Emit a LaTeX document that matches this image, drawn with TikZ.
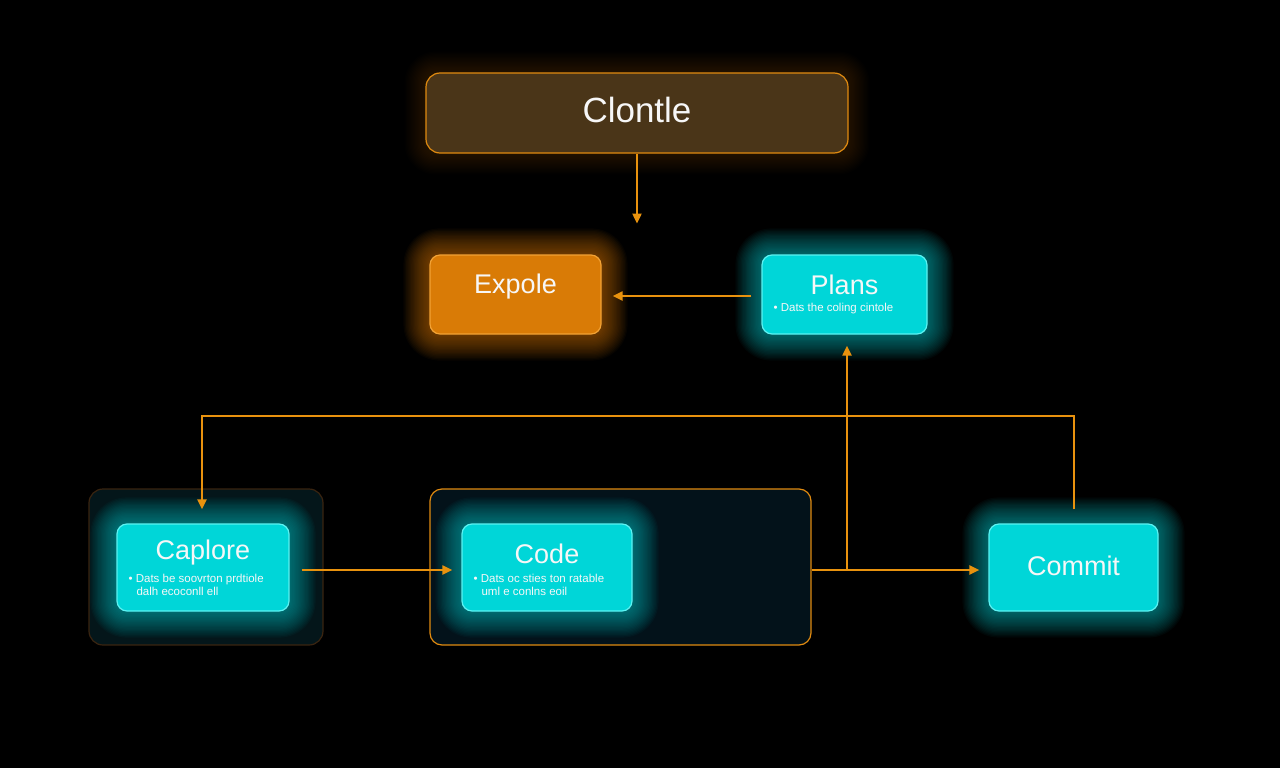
\documentclass[tikz,border=0pt]{standalone}
\usepackage{fontspec}
\setmainfont{Liberation Sans}
\usetikzlibrary{arrows.meta,calc}
\pgfdeclarelayer{back}
\pgfdeclarelayer{glowlayer}
\pgfsetlayers{back,glowlayer,main}
\definecolor{brownfill}{HTML}{4A3518}
\definecolor{orangeedge}{HTML}{E08A10}
\definecolor{orangefill}{HTML}{D97B06}
\definecolor{orangelite}{HTML}{F2A235}
\definecolor{cyanfill}{HTML}{00D6D8}
\definecolor{cyanedge}{HTML}{5CF2F2}
\definecolor{cyanglow}{HTML}{00C8CC}
\definecolor{brownglow}{HTML}{5A3A10}
\definecolor{capcontfill}{HTML}{04161A}
\definecolor{capcontedge}{HTML}{3A2410}
\definecolor{codecontfill}{HTML}{03121A}
\definecolor{arrowc}{HTML}{E8920E}
\definecolor{txt}{HTML}{F7F7F7}
\tikzset{
  box/.style={rounded corners=10pt, line width=1.2pt, inner sep=0pt},
  cyanbox/.style={box, fill=cyanfill, draw=cyanedge},
  orangebox/.style={box, fill=orangefill, draw=orangelite},
  brownbox/.style={box, fill=brownfill, draw=orangeedge, rounded corners=14pt},
  container/.style={rounded corners=14pt, line width=1.2pt, inner sep=0pt},
  title/.style={text=txt, font=\fontsize{27}{32}\selectfont, inner sep=0pt},
  bigtitle/.style={text=txt, font=\fontsize{35}{40}\selectfont, inner sep=0pt},
  small/.style={text=txt, font=\fontsize{11.5}{13}\selectfont, align=left, inner sep=0pt},
  conn/.style={draw=arrowc, line width=2pt, -{Triangle[length=10pt,width=9pt]}},
}
% #1 node, #2 colour, #3 steps, #4 opacity per step
\newcommand\glowaround[4]{%
  \begin{pgfonlayer}{glowlayer}
  \foreach \i [evaluate=\i as \r using 10+\i*1.3, evaluate=\i as \d using \i*1.3] in {1,...,#3}{
    \fill[#2, opacity=#4, rounded corners=\r pt]
      ($(#1.south west)+(-\d,\d)$) rectangle ($(#1.north east)+(\d,-\d)$);
  }
  \end{pgfonlayer}}
\begin{document}
\begin{tikzpicture}[x=1pt,y=-1pt]
\begin{pgfonlayer}{back}
\fill[black] (0,0) rectangle (1280,768);
\end{pgfonlayer}
\useasboundingbox (0,0) rectangle (1280,768);

% containers
\begin{pgfonlayer}{back}
\node[container, fill=capcontfill, draw=capcontedge, minimum width=234pt, minimum height=156pt] (capcont) at (206,567) {};
\node[container, fill=codecontfill, draw=orangeedge, rounded corners=12pt, minimum width=381pt, minimum height=156pt] (codecont) at (620.5,567) {};
\end{pgfonlayer}

% boxes
\node[brownbox, minimum width=422pt, minimum height=80pt] (clontle) at (637,113) {};
\node[bigtitle] (clontle-t) at ($(clontle.center)+(0,-3)$) {Clontle};

\node[orangebox, minimum width=171pt, minimum height=79pt] (expole) at (515.5,294.5) {};
\node[title] (expole-t) at ($(expole.center)+(0,-8)$) {Expole};

\node[cyanbox, minimum width=165pt, minimum height=79pt] (plans) at (844.5,294.5) {};
\node[title] (plans-t) at ($(plans.center)+(0,-10)$) {Plans};
\node[small, anchor=west] (plans-d) at ($(plans.west)+(12,14)$) {• Dats the coling cintole};

\node[cyanbox, minimum width=172pt, minimum height=87pt] (caplore) at (203,567.5) {};
\node[title] (caplore-t) at ($(caplore.center)+(0,-15)$) {Caplore};
\node[small, anchor=west] (caplore-d) at ($(caplore.west)+(12,17)$) {• Dats be soovrton prdtiole\\\hspace{8pt}dalh ecoconll ell};

\node[cyanbox, minimum width=170pt, minimum height=87pt] (code) at (547,567.5) {};
\node[title] (code-t) at ($(code.center)+(0,-14)$) {Code};
\node[small, anchor=west] (code-d) at ($(code.west)+(12,17)$) {• Dats oc sties ton ratable\\\hspace{8pt}uml e conlns eoil};

\node[cyanbox, minimum width=169pt, minimum height=87pt] (commit) at (1073.5,567.5) {};
\node[title] (commit-t) at ($(commit.center)+(0,-2)$) {Commit};

% glows
\glowaround{clontle}{brownglow}{16}{0.03}
\glowaround{expole}{orangefill}{20}{0.035}
\glowaround{plans}{cyanglow}{20}{0.035}
\glowaround{caplore}{cyanglow}{20}{0.035}
\glowaround{code}{cyanglow}{20}{0.035}
\glowaround{commit}{cyanglow}{20}{0.035}

% connectors
\coordinate (c1) at ($(clontle.south)+(0,70)$);
\draw[conn] (clontle.south) -- (c1);
\draw[conn] ($(plans.west)+(-10,1.5)$) -- ($(expole.east)+(11,1.5)$);
\draw[conn] ($(caplore.east)+(12,2.5)$) -- ($(code.west)+(-9,2.5)$);
\coordinate (j) at (847,570);
\draw[conn] ($(codecont.east)+(0,3)$) -- ($(commit.west)+(-9,2.5)$);
\draw[conn] (j) -- ($(plans.south)+(2.5,11)$);
\draw[conn] ($(commit.north)+(0.5,-14)$) -- ++(0,-93) -| ($(caplore.north)+(-1,-14)$);
\end{tikzpicture}
\end{document}
